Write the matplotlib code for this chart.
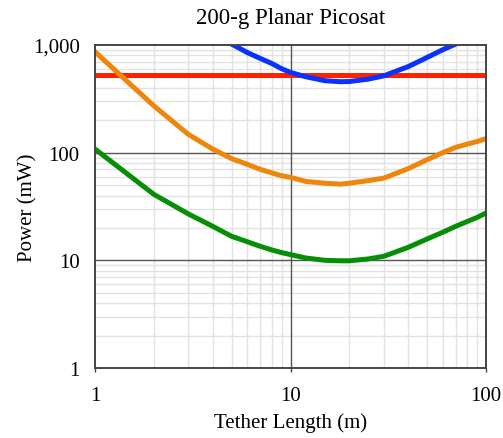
import matplotlib
matplotlib.use("Agg")
import matplotlib.pyplot as plt
from matplotlib.ticker import FuncFormatter, NullLocator

plt.rcParams['font.family'] = ['Liberation Serif', 'DejaVu Serif']

# tether length (m) and power (mW) for each configuration
length = [1, 2, 3, 4, 5, 6, 7, 8, 9, 10, 12, 15, 18, 20, 25, 30, 40, 50, 60, 70, 80, 90, 100]
power_blue = [8000, 3500, 2000, 1350, 1020, 853, 751, 675, 603, 556, 507, 466, 456, 458, 482, 517,
              630, 767, 903, 1020, 1150, 1280, 1400]
power_orange = [865, 272, 148, 108, 88, 78, 70, 65, 61, 59, 54, 52, 51, 52, 55, 58,
                71, 86, 100, 112, 120, 127, 135]
power_green = [108, 41, 27, 20.7, 16.7, 14.9, 13.5, 12.5, 11.8, 11.3, 10.5, 10.0, 9.9, 9.9, 10.3, 10.9,
               13.2, 15.8, 18.2, 20.7, 22.9, 25, 27.5]
power_red = [525] * len(length)

x_major = [1, 10, 100]
y_major = [1, 10, 100, 1000]

fig = plt.figure(figsize=(5.03, 4.39), dpi=100)
ax = fig.add_axes([0.1889, 0.1595, 0.7773, 0.7357])

ax.set_xscale('log')
ax.set_yscale('log')
ax.set_xlim(1, 100)
ax.set_ylim(1, 1000)

# light minor grid, darker decade lines
for dec in [1, 10]:
    for k in range(2, 10):
        ax.axvline(dec * k, color='#e2e2e2', lw=1.0, zorder=0)
for dec in [1, 10, 100]:
    for k in range(2, 10):
        ax.axhline(dec * k, color='#e2e2e2', lw=1.0, zorder=0)
for v in x_major[1:-1]:
    ax.axvline(v, color='#555555', lw=1.0, zorder=1)
for v in y_major[1:-1]:
    ax.axhline(v, color='#555555', lw=1.0, zorder=1)

lw = 3.6
ax.plot(length, power_red, color='#ff2200', lw=lw, solid_capstyle='butt', zorder=3)
ax.plot(length, power_blue, color='#0a32ff', lw=lw, zorder=4)
ax.plot(length, power_orange, color='#ef860c', lw=lw, zorder=3)
ax.plot(length, power_green, color='#068f06', lw=lw, zorder=3)

ax.set_xticks(x_major)
ax.set_yticks(y_major)
ax.xaxis.set_minor_locator(NullLocator())
ax.yaxis.set_minor_locator(NullLocator())
ax.xaxis.set_major_formatter(FuncFormatter(lambda v, p: f"{v:,.0f}"))
ax.yaxis.set_major_formatter(FuncFormatter(lambda v, p: f"{v:,.0f}"))

ax.tick_params(axis='x', which='major', direction='out', length=3, width=1, color='#444444',
               labelsize=15, pad=10)
ax.tick_params(axis='y', which='major', length=0, labelsize=15, pad=11)

for s in ax.spines.values():
    s.set_color('#444444')
    s.set_linewidth(1.4)
    s.set_zorder(5)

ax.set_title("200-g Planar Picosat", fontsize=16.5, pad=16)
ax.set_xlabel("Tether Length (m)", fontsize=15, labelpad=5)
ax.set_ylabel("Power (mW)", fontsize=15, labelpad=-3)

fig.savefig("out.png", dpi=100)
